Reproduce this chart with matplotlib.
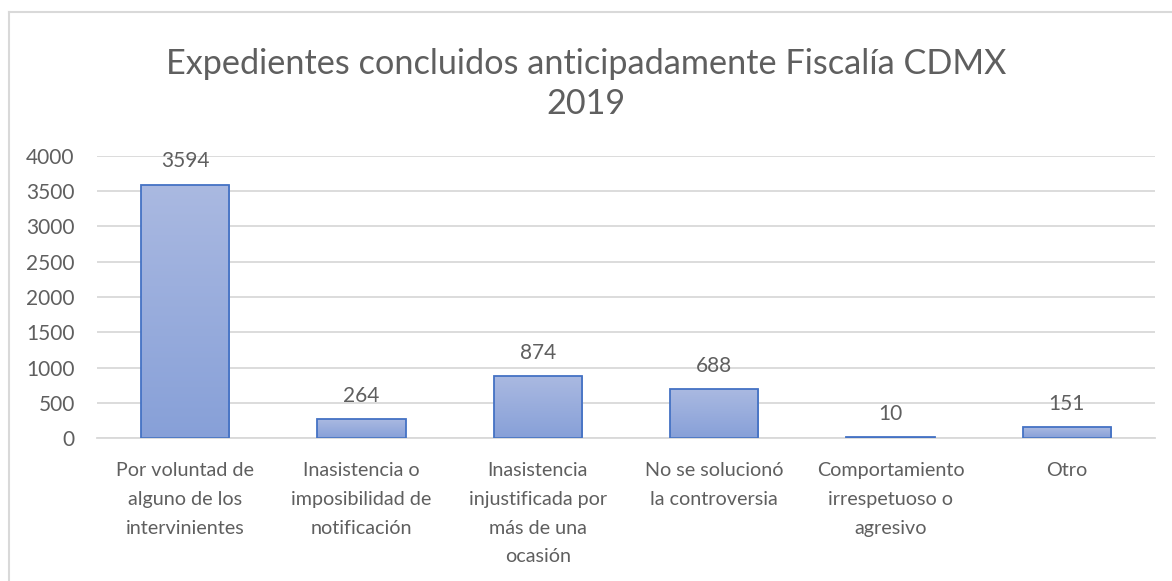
import matplotlib
matplotlib.use("Agg")
import matplotlib.pyplot as plt
import numpy as np
from matplotlib.patches import Rectangle

categories = [
    "Por voluntad de\nalguno de los\nintervinientes",
    "Inasistencia o\nimposibilidad de\nnotificación",
    "Inasistencia\ninjustificada por\nmás de una\nocasión",
    "No se solucionó\nla controversia",
    "Comportamiento\nirrespetuoso o\nagresivo",
    "Otro",
]
values = [3594, 264, 874, 688, 10, 151]
yticks = [0, 500, 1000, 1500, 2000, 2500, 3000, 3500, 4000]
title = "Expedientes concluidos anticipadamente Fiscalía CDMX\n2019"

plt.rcParams['font.family'] = ['Lato', 'DejaVu Sans']
gray = "#5f5f5f"

W, H = 1172, 581
fig = plt.figure(figsize=(W / 100, H / 100), dpi=100)
fig.patch.set_facecolor("white")

# chart frame (top and left edges visible)
fig.add_artist(plt.Line2D([9 / W, 1], [1 - 12 / H, 1 - 12 / H], color="#d9d9d9", lw=1.5))
fig.add_artist(plt.Line2D([9 / W, 9 / W], [0, 1 - 12 / H], color="#d9d9d9", lw=1.5))

ax = fig.add_axes([97 / W, 1 - 438 / H, (1155 - 97) / W, (438 - 156) / H])
x = np.arange(len(values))
bars = ax.bar(x, values, width=0.5, color="none", edgecolor="#4472c4", linewidth=1.3, zorder=3)

grad = np.linspace(0, 1, 256).reshape(-1, 1)
cmap = matplotlib.colors.LinearSegmentedColormap.from_list("g", ["#87a0d8", "#aab9e1"])
for b in bars:
    x0, w, h = b.get_x(), b.get_width(), b.get_height()
    im = ax.imshow(grad, extent=[x0, x0 + w, 0, h], origin="lower", aspect="auto",
                   cmap=cmap, zorder=2)
    clip = Rectangle((x0, 0), w, h, transform=ax.transData)
    im.set_clip_path(clip)

for xi, v in zip(x, values):
    ax.annotate(str(v), (xi, v), xytext=(0, 17), textcoords="offset points",
                ha="center", va="center", fontsize=15, color=gray)

ax.set_xlim(-0.5, len(values) - 0.5)
ax.set_ylim(0, 4000)
ax.set_yticks(yticks)
ax.set_yticklabels([str(t) for t in yticks])
ax.set_xticks(x)
ax.set_xticklabels(categories, fontsize=14.2, color=gray, linespacing=1.83, va="top")
ax.tick_params(axis="y", length=0, pad=16, labelsize=15, labelcolor=gray)
ax.tick_params(axis="x", length=0, pad=17.5)
ax.grid(axis="y", color="#d9d9d9", lw=1.3, zorder=0)
ax.set_axisbelow(True)
for s in ["top", "right", "left"]:
    ax.spines[s].set_visible(False)
ax.spines["bottom"].set_color("#d9d9d9")
ax.spines["bottom"].set_linewidth(1.3)

fig.text(0.5, 1 - 84 / H, title, ha="center", va="center", fontsize=24.7, color=gray,
         linespacing=1.3)

fig.savefig("out.png", dpi=100)
